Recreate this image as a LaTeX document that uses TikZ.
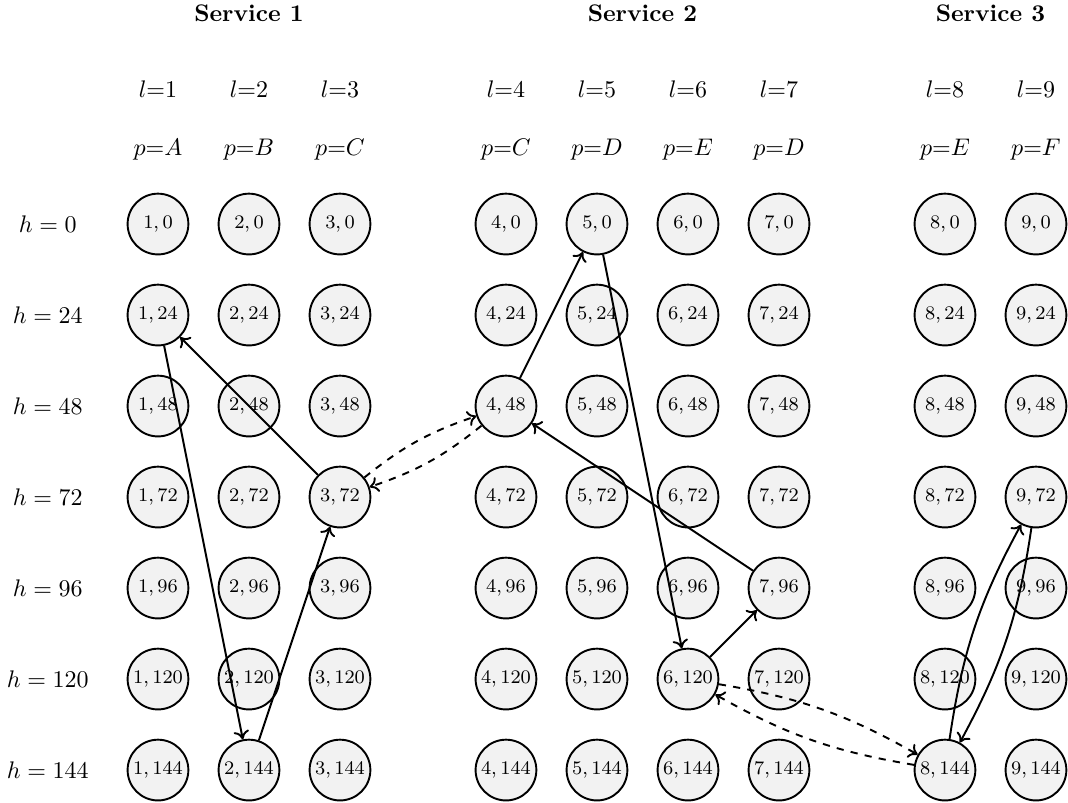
\documentclass[tikz,border=0pt]{standalone}
\usepackage{amsmath}
\usepackage{tikz}
\usetikzlibrary{positioning,arrows.meta}
\tikzset{%
	slot/.style={
		circle,
		draw,
		thick,
		fill=gray!10,
		inner sep=0pt,
		minimum size=0.89cm,
		font=\footnotesize
	},
	flow/.style={ ->, thick },
	link/.style={ ->, thick, dashed },
}

\begin{document}
\begin{tikzpicture}[x=1.333cm, y=1.333cm, >={Computer Modern Rightarrow[length=3.6pt,width=6.5pt]}]
\useasboundingbox (-1.736,2.462) rectangle (10.0,-6.352);
% slots
\foreach \l/\s in {1/0,2/0,3/0,4/1,5/1,6/1,7/1,8/2,9/2}
	\foreach \h [count=\r from 0] in {0,24,48,72,96,120,144}
		\node[slot] (slot-\l-\h) at ({\l-1+0.824*\s},-\r) {$\l,\h$};

% time labels
\foreach \h [count=\r from 0] in {0,24,48,72,96,120,144}
	\node (time-\h) at (-1.21,-\r) {$h = \h$};

% location and platform labels
\foreach \l/\s/\p in {1/0/A,2/0/B,3/0/C,4/1/C,5/1/D,6/1/E,7/1/D,8/2/E,9/2/F}
{
	\node (loc-\l) at ({\l-1+0.824*\s},1.48) {$l{=}\l$};
	\node (plat-\l) at ({\l-1+0.824*\s},0.82) {$p{=}\p$};
}

% service labels
\foreach \x [count=\i] in {1,5.324,9.148}
	\node[font=\bfseries] (service-\i) at (\x,2.32) {Service \i};

% flows
\draw[flow] (slot-3-72) -- (slot-1-24);
\draw[flow] (slot-1-24) -- (slot-2-144);
\draw[flow] (slot-2-144) -- (slot-3-72);
\draw[flow] (slot-4-48) -- (slot-5-0);
\draw[flow] (slot-5-0) -- (slot-6-120);
\draw[flow] (slot-6-120) -- (slot-7-96);
\draw[flow] (slot-7-96) -- (slot-4-48);
\draw[flow] (slot-8-144) to[bend left=10] (slot-9-72);
\draw[flow] (slot-9-72) to[bend left=10] (slot-8-144);

% links between services
\draw[link] (slot-3-72) to[bend left=10] (slot-4-48);
\draw[link] (slot-4-48) to[bend left=10] (slot-3-72);
\draw[link] (slot-6-120) to[bend left=10] (slot-8-144);
\draw[link] (slot-8-144) to[bend left=10] (slot-6-120);

\end{tikzpicture}
\end{document}
